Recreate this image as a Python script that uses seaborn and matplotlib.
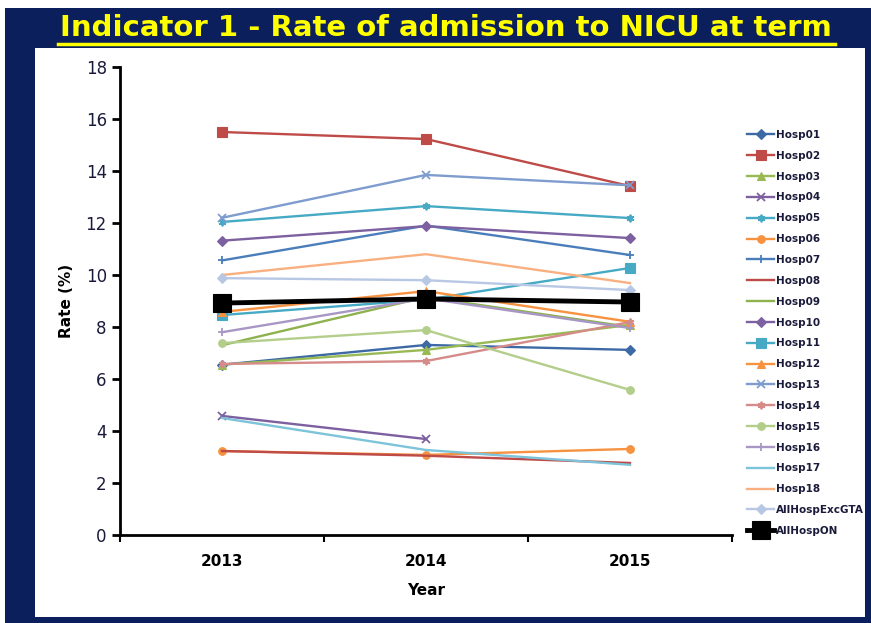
import numpy as np
import pandas as pd
import matplotlib
matplotlib.use('Agg')
import matplotlib.pyplot as plt
from matplotlib.patches import Rectangle
from matplotlib.lines import Line2D
import seaborn as sns

years = [2013, 2014, 2015]
hospitals = ['Hosp01', 'Hosp02', 'Hosp03', 'Hosp04', 'Hosp05', 'Hosp06',
             'Hosp07', 'Hosp08', 'Hosp09', 'Hosp10', 'Hosp11', 'Hosp12',
             'Hosp13', 'Hosp14', 'Hosp15', 'Hosp16', 'Hosp17', 'Hosp18',
             'AllHospExcGTA', 'AllHospON']
rates = {
    'Hosp01': [6.55, 7.31, 7.12],
    'Hosp02': [15.5, 15.23, 13.42],
    'Hosp03': [6.55, 7.12, 8.08],
    'Hosp04': [4.58, 3.69, np.nan],
    'Hosp05': [12.04, 12.65, 12.19],
    'Hosp06': [3.23, 3.08, 3.31],
    'Hosp07': [10.56, 11.9, 10.77],
    'Hosp08': [3.23, 3.05, 2.77],
    'Hosp09': [7.3, 9.15, 8.0],
    'Hosp10': [11.32, 11.88, 11.42],
    'Hosp11': [8.46, 9.05, 10.27],
    'Hosp12': [8.58, 9.38, 8.2],
    'Hosp13': [12.2, 13.85, 13.45],
    'Hosp14': [6.58, 6.69, 8.19],
    'Hosp15': [7.38, 7.88, 5.58],
    'Hosp16': [7.8, 9.1, 7.96],
    'Hosp17': [4.5, 3.27, 2.7],
    'Hosp18': [10.0, 10.8, 9.69],
    'AllHospExcGTA': [9.88, 9.8, 9.42],
    'AllHospON': [8.92, 9.08, 8.96],
}

colors = {
    'Hosp01': '#3D6AA5', 'Hosp02': '#BE4B48', 'Hosp03': '#98B954',
    'Hosp04': '#7D60A0', 'Hosp05': '#46AAC5', 'Hosp06': '#F69240',
    'Hosp07': '#4A7EBB', 'Hosp08': '#BE4B48', 'Hosp09': '#8DB24E',
    'Hosp10': '#7D60A0', 'Hosp11': '#46AAC5', 'Hosp12': '#F69240',
    'Hosp13': '#7E9CCE', 'Hosp14': '#D58B89', 'Hosp15': '#B3CE8A',
    'Hosp16': '#A897C4', 'Hosp17': '#7DC3D9', 'Hosp18': '#F9B080',
    'AllHospExcGTA': '#B8C7E3', 'AllHospON': '#000000',
}
asterisk = (6, 2, 0)
markers = {
    'Hosp01': 'D', 'Hosp02': 's', 'Hosp03': '^', 'Hosp04': 'x',
    'Hosp05': asterisk, 'Hosp06': 'o', 'Hosp07': '+', 'Hosp08': None,
    'Hosp09': None, 'Hosp10': 'D', 'Hosp11': 's', 'Hosp12': '^',
    'Hosp13': 'x', 'Hosp14': asterisk, 'Hosp15': 'o', 'Hosp16': '+',
    'Hosp17': None, 'Hosp18': None, 'AllHospExcGTA': 'D', 'AllHospON': 's',
}

df = pd.DataFrame([(h, y, v) for h in hospitals for y, v in zip(years, rates[h])],
                  columns=['Hospital', 'Year', 'Rate'])

NAVY = '#0b1f5c'
W, H = 871, 623
fig = plt.figure(figsize=(W / 100, H / 100), dpi=100)
fig.patch.set_facecolor('white')
fig.patches.append(Rectangle((5 / W, 0), 866 / W, 1 - 8 / H, transform=fig.transFigure,
                             facecolor=NAVY, edgecolor='none', zorder=-10))
fig.patches.append(Rectangle((35 / W, 6 / H), 830 / W, (H - 48 - 6) / H, transform=fig.transFigure,
                             facecolor='white', edgecolor='none', zorder=-9))

# title with underline
fig.text(446 / W, 1 - 28 / H, 'Indicator 1 - Rate of admission to NICU at term',
         color='#FFFF00', fontsize=21, fontweight='bold', ha='center', va='center')
fig.add_artist(Line2D([58 / W, 835 / W], [1 - 44 / H, 1 - 44 / H], transform=fig.transFigure,
                      color='#FFFF00', lw=2.5))

ax = fig.add_axes([120 / W, 1 - 535 / H, 612 / W, 468 / H])
ax.set_facecolor('none')

for h in hospitals:
    sub = df[df['Hospital'] == h]
    big = h == 'AllHospON'
    mk = markers[h]
    kw = dict(marker=mk if mk is not None else '', markersize=13 if big else (6.5 if mk == 's' else 5.5),
              markeredgewidth=1.3 if mk in ('x', '+', asterisk) else 0.8,
              markeredgecolor=colors[h], markerfacecolor=colors[h])
    sns.lineplot(data=sub, x='Year', y='Rate', ax=ax, color=colors[h],
                 linewidth=3.5 if big else 1.7, label=h, zorder=5 if big else 3,
                 estimator=None, sort=False, **kw)

ax.set_xlim(2012.5, 2015.5)
ax.set_ylim(0, 18)
ax.set_xticks(years)
ax.set_xticklabels([str(y) for y in years], fontweight='bold', fontsize=11)
ax.set_xticks([2012.5, 2013.5, 2014.5, 2015.5], minor=True)
ax.set_yticks(range(0, 19, 2))
ax.tick_params(axis='y', labelsize=12, labelcolor='#1a1a3a', length=6, width=2, direction='out')
ax.tick_params(axis='x', which='major', length=0, pad=14)
ax.tick_params(axis='x', which='minor', length=5, width=1.5, direction='out')
for s in ['top', 'right']:
    ax.spines[s].set_visible(False)
for s in ['left', 'bottom']:
    ax.spines[s].set_linewidth(2)
    ax.spines[s].set_color('black')
ax.set_xlabel('Year', fontweight='bold', fontsize=11, labelpad=10)
ax.set_ylabel('Rate (%)', fontweight='bold', fontsize=11, labelpad=8)
ax.grid(False)

handles, labels = ax.get_legend_handles_labels()
ax.legend(handles, labels, loc='upper left', bbox_to_anchor=(747 / W, 1 - 130 / H),
          bbox_transform=fig.transFigure, frameon=False, handlelength=2.6,
          handletextpad=0.15, labelspacing=1.04, prop=dict(size=7.5, weight='bold'),
          labelcolor='#1a1a3a', borderaxespad=0, borderpad=0)

fig.savefig('out.png', dpi=100)
